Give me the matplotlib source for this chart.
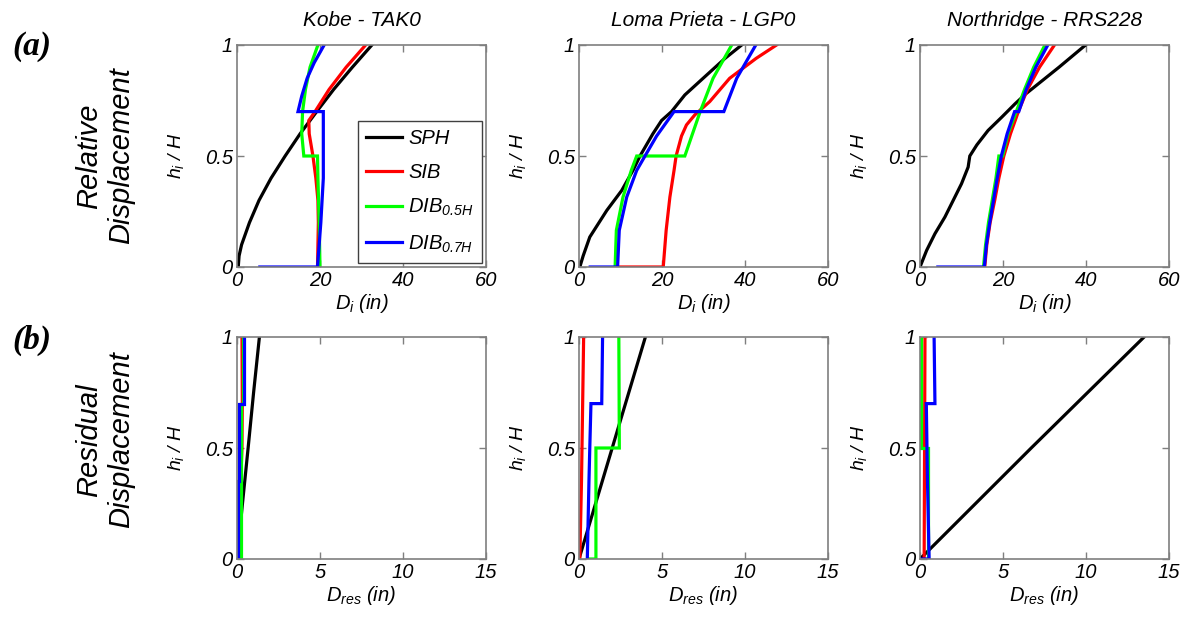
import matplotlib
matplotlib.use("Agg")
import matplotlib.pyplot as plt
from matplotlib import font_manager

# ---------------- data ----------------
titles = ["Kobe - TAK0", "Loma Prieta - LGP0", "Northridge - RRS228"]
series_names = ["SPH", "SIB", r"DIB$_{0.5H}$", r"DIB$_{0.7H}$"]
series_colors = ["#000000", "#ff0000", "#00ff00", "#0000ff"]
rel_xticks = [0, 20, 40, 60]
res_xticks = [0, 5, 10, 15]
yticks = [0, 0.5, 1]

# Relative displacement, Kobe
kobe_sph_h = [0, 0.05, 0.1, 0.2, 0.3, 0.4, 0.5, 0.6, 0.7, 0.8, 0.9, 1.0]
kobe_sph_d = [0.3, 0.5, 1.1, 3.0, 5.3, 8.2, 11.6, 15.2, 19.2, 23.3, 27.8, 32.5]
kobe_sib_h = [0, 0.1, 0.2, 0.3, 0.4, 0.5, 0.6, 0.66, 0.7, 0.8, 0.9, 1.0]
kobe_sib_d = [19.4, 19.5, 19.6, 19.5, 19.0, 18.3, 17.4, 17.3, 18.8, 22.2, 26.3, 31.0]
kobe_dib05_h = [0, 0.2, 0.4, 0.5, 0.5, 0.6, 0.7, 0.8, 0.9, 1.0]
kobe_dib05_d = [20.0, 19.8, 19.5, 19.4, 16.1, 15.6, 15.8, 16.5, 17.6, 19.5]
kobe_dib07_h = [0, 0, 0.2, 0.4, 0.7, 0.7, 0.77, 0.85, 0.92, 1.0]
kobe_dib07_d = [5.5, 19.4, 20.2, 20.8, 20.8, 14.7, 15.6, 16.9, 18.6, 21.0]

# Relative displacement, Loma Prieta
lp_sph_h = [0, 0.05, 0.135, 0.255, 0.345, 0.435, 0.5, 0.6, 0.66, 0.7, 0.775, 0.85, 0.94, 1.0]
lp_sph_d = [0.2, 1.0, 2.6, 6.7, 10.3, 13.0, 14.7, 17.8, 19.9, 22.3, 25.5, 29.9, 35.2, 39.2]
lp_sib_h = [0, 0, 0.165, 0.315, 0.435, 0.5, 0.59, 0.64, 0.685, 0.745, 0.85, 0.94, 1.0]
lp_sib_d = [9.6, 20.3, 21.0, 21.9, 22.9, 23.4, 24.7, 25.9, 27.9, 31.5, 36.3, 42.7, 47.6]
lp_dib05_h = [0, 0.165, 0.315, 0.435, 0.5, 0.5, 0.7, 0.85, 1.0]
lp_dib05_d = [8.7, 9.0, 10.6, 12.6, 13.9, 25.5, 29.2, 32.3, 36.8]
lp_dib07_h = [0, 0, 0.165, 0.315, 0.435, 0.5, 0.59, 0.7, 0.7, 0.85, 1.0]
lp_dib07_d = [2.7, 9.3, 9.7, 11.5, 13.9, 15.9, 18.7, 22.9, 34.9, 38.0, 42.6]

# Relative displacement, Northridge
nr_sph_h = [0, 0.075, 0.15, 0.225, 0.3, 0.375, 0.45, 0.5, 0.55, 0.615, 0.675, 0.735, 0.78, 0.9, 1.0]
nr_sph_d = [0, 1.6, 3.6, 6.0, 8.0, 10.0, 11.6, 12.0, 13.7, 16.4, 19.7, 22.9, 25.5, 33.5, 39.9]
nr_sib_h = [0, 0.1, 0.2, 0.3, 0.4, 0.5, 0.6, 0.7, 0.8, 0.9, 1.0]
nr_sib_d = [15.6, 16.1, 16.9, 18.0, 19.0, 20.2, 21.8, 23.7, 25.9, 28.8, 32.4]
nr_dib05_h = [0, 0.1, 0.2, 0.3, 0.4, 0.5, 0.5, 0.6, 0.7, 0.8, 0.9, 1.0]
nr_dib05_d = [15.3, 15.8, 16.5, 17.4, 18.3, 19.0, 19.9, 21.2, 23.2, 25.2, 27.4, 30.1]
nr_dib07_h = [0, 0, 0.1, 0.2, 0.3, 0.4, 0.5, 0.6, 0.7, 0.7, 0.8, 0.9, 1.0]
nr_dib07_d = [4.3, 15.5, 16.0, 16.8, 17.7, 18.6, 19.6, 21.0, 22.8, 23.8, 25.6, 27.9, 30.8]

# Residual displacement, Kobe
kobe_res_sph_h = [0, 0.25, 0.5, 0.75, 1.0]
kobe_res_sph_d = [0, 0.33, 0.67, 1.0, 1.35]
kobe_res_sib_h = [0, 0.3, 0.5, 0.7, 1.0]
kobe_res_sib_d = [0.15, 0.2, 0.3, 0.32, 0.3]
kobe_res_dib05_h = [0, 0.7, 0.7, 1.0]
kobe_res_dib05_d = [0.25, 0.25, 0.35, 0.35]
kobe_res_dib07_h = [0, 0.35, 0.35, 0.7, 0.7, 1.0]
kobe_res_dib07_d = [0.05, 0.05, 0.15, 0.15, 0.45, 0.45]

# Residual displacement, Loma Prieta
lp_res_sph_h = [0, 0.5, 1.0]
lp_res_sph_d = [0.0, 2.0, 4.0]
lp_res_sib_h = [0, 0.35, 0.7, 1.0]
lp_res_sib_d = [0.05, 0.15, 0.22, 0.28]
lp_res_dib05_h = [0, 0, 0.5, 0.5, 1.0]
lp_res_dib05_d = [0.65, 1.02, 1.02, 2.43, 2.4]
lp_res_dib07_h = [0, 0.35, 0.5, 0.7, 0.7, 1.0]
lp_res_dib07_d = [0.5, 0.6, 0.65, 0.72, 1.37, 1.42]

# Residual displacement, Northridge
nr_res_sph_h = [0, 0.5, 1.0]
nr_res_sph_d = [0.0, 6.7, 13.5]
nr_res_sib_h = [0, 1.0]
nr_res_sib_d = [0.25, 0.3]
nr_res_dib05_h = [0, 0.5, 0.5, 1.0]
nr_res_dib05_d = [0.5, 0.5, 0.05, 0.05]
nr_res_dib07_h = [0, 0, 0.35, 0.7, 0.7, 1.0]
nr_res_dib07_d = [0.1, 0.55, 0.45, 0.38, 0.9, 0.85]

rel_data = [
    [(kobe_sph_d, kobe_sph_h), (kobe_sib_d, kobe_sib_h), (kobe_dib05_d, kobe_dib05_h), (kobe_dib07_d, kobe_dib07_h)],
    [(lp_sph_d, lp_sph_h), (lp_sib_d, lp_sib_h), (lp_dib05_d, lp_dib05_h), (lp_dib07_d, lp_dib07_h)],
    [(nr_sph_d, nr_sph_h), (nr_sib_d, nr_sib_h), (nr_dib05_d, nr_dib05_h), (nr_dib07_d, nr_dib07_h)],
]
res_data = [
    [(kobe_res_sph_d, kobe_res_sph_h), (kobe_res_sib_d, kobe_res_sib_h), (kobe_res_dib05_d, kobe_res_dib05_h), (kobe_res_dib07_d, kobe_res_dib07_h)],
    [(lp_res_sph_d, lp_res_sph_h), (lp_res_sib_d, lp_res_sib_h), (lp_res_dib05_d, lp_res_dib05_h), (lp_res_dib07_d, lp_res_dib07_h)],
    [(nr_res_sph_d, nr_res_sph_h), (nr_res_sib_d, nr_res_sib_h), (nr_res_dib05_d, nr_res_dib05_h), (nr_res_dib07_d, nr_res_dib07_h)],
]

# ---------------- style ----------------
def has_font(name):
    try:
        font_manager.findfont(font_manager.FontProperties(family=name), fallback_to_default=False)
        return True
    except Exception:
        return False

base_font = "Liberation Sans" if has_font("Liberation Sans") else "DejaVu Sans"
narrow_font = "Liberation Sans Narrow" if has_font("Liberation Sans Narrow") else base_font

plt.rcParams["font.family"] = [base_font, "DejaVu Sans"]
plt.rcParams["font.style"] = "italic"
plt.rcParams["mathtext.fontset"] = "custom"
plt.rcParams["mathtext.rm"] = base_font + ":italic"
plt.rcParams["mathtext.it"] = base_font + ":italic"
plt.rcParams["mathtext.bf"] = base_font + ":italic:bold"

W, H = 1187, 619
fig = plt.figure(figsize=(W / 100, H / 100), dpi=100)

spine_col = "#7f7f7f"
lefts = [237, 579, 920]
ax_w = 249
ax_h = 222
tops = [45, 337]

def make_ax(left_px, top_px):
    return fig.add_axes([left_px / W, 1 - (top_px + ax_h) / H, ax_w / W, ax_h / H])

def style_ax(ax, xlim, xticks):
    ax.set_xlim(*xlim)
    ax.set_ylim(0, 1)
    ax.set_xticks(xticks)
    ax.set_xticklabels([str(t) for t in xticks])
    ax.set_yticks(yticks)
    ax.set_yticklabels(["0", "0.5", "1"])
    ax.tick_params(direction="in", length=5, width=1, color=spine_col,
                   top=True, right=True, labelsize=14.5, pad=3)
    for s in ax.spines.values():
        s.set_color(spine_col)
        s.set_linewidth(1.2)
    ax.set_ylabel(r"$h_i$ / H", fontsize=14)
    ax.yaxis.set_label_coords(-0.205, 0.5)

lw = 2.3
for row, (data, xlim, xticks, xlabel) in enumerate([
        (rel_data, (0, 60), rel_xticks, r"$D_i$ (in)"),
        (res_data, (0, 15), res_xticks, r"$D_{res}$ (in)")]):
    for col in range(3):
        ax = make_ax(lefts[col], tops[row])
        for (d, h), name, c in zip(data[col], series_names, series_colors):
            ax.plot(d, h, color=c, lw=lw, label=name, solid_joinstyle="miter")
        style_ax(ax, xlim, xticks)
        ax.set_xlabel(xlabel, fontsize=14.5, labelpad=1)
        if row == 0:
            ax.text(0.5, 1 + 25 / ax_h, titles[col], transform=ax.transAxes,
                    ha="center", va="center", fontsize=15, family=narrow_font, style="italic")
        if row == 0 and col == 0:
            leg = ax.legend(loc="lower right", bbox_to_anchor=(0.983, 0.02), fontsize=14.5,
                            frameon=True, fancybox=False, framealpha=1, edgecolor="#404040",
                            handlelength=1.8, handletextpad=0.3, borderpad=0.4,
                            labelspacing=0.75, borderaxespad=0)
            leg.get_frame().set_linewidth(1.0)

# row labels
fig.text(105 / W, 1 - 156 / H, "Relative\nDisplacement", rotation=90, ha="center", va="center",
         fontsize=21, linespacing=1.15)
fig.text(105 / W, 1 - 440 / H, "Residual\nDisplacement", rotation=90, ha="center", va="center",
         fontsize=21, linespacing=1.15)
serif = "Liberation Serif" if has_font("Liberation Serif") else "DejaVu Serif"
fig.text(32 / W, 1 - 46 / H, "(a)", ha="center", va="center", fontsize=24,
         family=serif, weight="bold", style="italic")
fig.text(32 / W, 1 - 340 / H, "(b)", ha="center", va="center", fontsize=24,
         family=serif, weight="bold", style="italic")

fig.savefig("out.png", dpi=100)
